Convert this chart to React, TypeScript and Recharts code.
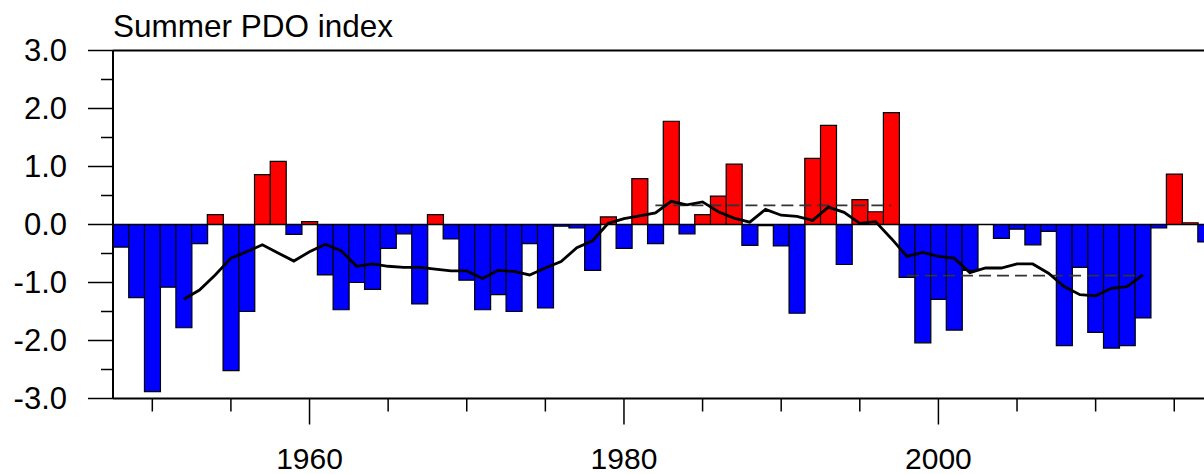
import React from 'react';
import { ComposedChart, Bar, Line, XAxis, YAxis, ReferenceLine, Cell } from 'recharts';

const years: number[] = [
  1948, 1949, 1950, 1951, 1952, 1953, 1954, 1955, 1956, 1957, 1958, 1959,
  1960, 1961, 1962, 1963, 1964, 1965, 1966, 1967, 1968, 1969,
  1970, 1971, 1972, 1973, 1974, 1975, 1976, 1977, 1978, 1979,
  1980, 1981, 1982, 1983, 1984, 1985, 1986, 1987, 1988, 1989,
  1990, 1991, 1992, 1993, 1994, 1995, 1996, 1997, 1998, 1999,
  2000, 2001, 2002, 2003, 2004, 2005, 2006, 2007, 2008, 2009,
  2010, 2011, 2012, 2013, 2014, 2015, 2016, 2017, 2018, 2019,
];

const pdoIndex: (number | null)[] = [
  -0.39, -1.26, -2.88, -1.08, -1.78, -0.33, 0.17, -2.52, -1.5, 0.86, 1.09, -0.17,
  0.05, -0.87, -1.47, -1.0, -1.12, -0.41, -0.16, -1.37, 0.17, -0.25,
  -0.96, -1.47, -1.21, -1.5, -0.33, -1.44, -0.03, -0.06, -0.79, 0.13,
  -0.41, 0.79, -0.33, 1.78, -0.16, 0.17, 0.49, 1.04, -0.36, -0.02,
  -0.37, -1.53, 1.14, 1.71, -0.69, 0.43, 0.22, 1.93, -0.91, -2.04,
  -1.29, -1.82, -0.79, 0.0, -0.24, -0.08, -0.35, -0.12, -2.09, -0.74,
  -1.86, -2.13, -2.09, -1.61, -0.06, 0.87, 0.03, -0.3, null, null,
];

// 9-year running mean, 1952-2013
const runningMeanStart = 1952;
const runningMean: number[] = [
  -1.29, -1.13, -0.87, -0.58, -0.47, -0.35, -0.49, -0.63,
  -0.47, -0.34, -0.45, -0.72, -0.68, -0.72, -0.74, -0.74, -0.77, -0.8,
  -0.8, -0.93, -0.79, -0.81, -0.87, -0.75, -0.64, -0.4, -0.28, 0.02,
  0.1, 0.15, 0.2, 0.4, 0.34, 0.39, 0.22, 0.11, 0.04, 0.26,
  0.16, 0.14, 0.07, 0.3, 0.21, 0.02, 0.05, -0.24, -0.55, -0.48,
  -0.55, -0.58, -0.83, -0.75, -0.75, -0.68, -0.68, -0.84, -1.07, -1.21,
  -1.23, -1.1, -1.07, -0.87,
];

const periodMeans = [
  { from: 1982, to: 1997, value: 0.33 },
  { from: 1998, to: 2013, value: -0.88 },
];

const yTicks: number[] = [-3, -2.5, -2, -1.5, -1, -0.5, 0, 0.5, 1, 1.5, 2, 2.5, 3];

const data = years.map((year, i) => {
  const mi = year - runningMeanStart;
  const p1 = periodMeans[0];
  const p2 = periodMeans[1];
  return {
    year,
    pdo: pdoIndex[i],
    mean: mi >= 0 && mi < runningMean.length ? runningMean[mi] : null,
    mean1: year >= p1.from && year <= p1.to ? p1.value : null,
    mean2: year >= p2.from && year <= p2.to ? p2.value : null,
  };
});

const FONT = '"Liberation Sans", Arial, Helvetica, sans-serif';

const XTick = (props: any) => {
  const { x, y, payload } = props;
  const yr = Number(payload.value);
  if (yr % 5 !== 0) return <g />;
  const major = yr % 20 === 0;
  return (
    <g>
      <line x1={x} x2={x} y1={y} y2={y + (major ? 26 : 13)} stroke="#000" strokeWidth={1.5} />
      {major && (
        <text x={x} y={y + 60} textAnchor="middle" dominantBaseline="central" fontSize={30} fontFamily={FONT} fill="#000">
          {yr}
        </text>
      )}
    </g>
  );
};

const YTick = (props: any) => {
  const { x, y, payload } = props;
  const v = Number(payload.value);
  const major = Math.abs(v - Math.round(v)) < 1e-6;
  return (
    <g>
      <line x1={x - (major ? 25 : 12)} x2={x} y1={y} y2={y} stroke="#000" strokeWidth={1.5} />
      {major && (
        <text x={x - 46} y={y} textAnchor="end" dominantBaseline="central" fontSize={31} fontFamily={FONT} fill="#000">
          {v.toFixed(1)}
        </text>
      )}
    </g>
  );
};

export default function App() {
  return (
    <div style={{ position: 'fixed', left: 0, top: 0, width: 1204, height: 474, overflow: 'hidden', background: '#fff' }}>
      <svg width={600} height={50} style={{ position: 'absolute', left: 0, top: 0 }}>
        <text x={113} y={37} fontSize={31.5} fontFamily={FONT} fill="#000">Summer PDO index</text>
      </svg>
      <div style={{ position: 'absolute', left: 0, top: 0 }}>
        <ComposedChart
          width={1245}
          height={474}
          data={data}
          margin={{ top: 50.5, right: 0, bottom: 0, left: 0 }}
          barCategoryGap={0}
          barGap={0}
        >
          <XAxis
            dataKey="year"
            type="category"
            interval={0}
            height={75.5}
            tick={<XTick />}
            tickLine={false}
            tickSize={0}
            tickMargin={0}
            axisLine={{ stroke: '#000', strokeWidth: 2 }}
          />
          <YAxis
            type="number"
            domain={[-3, 3]}
            ticks={yTicks}
            interval={0}
            width={113}
            tick={<YTick />}
            tickLine={false}
            tickSize={0}
            tickMargin={0}
            axisLine={{ stroke: '#000', strokeWidth: 2 }}
            allowDataOverflow
          />
          <ReferenceLine y={3} stroke="#000" strokeWidth={2} />
          <Bar dataKey="pdo" stroke="#000" strokeWidth={1.2} isAnimationActive={false}>
            {data.map((d, i) => (
              <Cell key={i} fill={(d.pdo ?? 0) > 0 ? '#ff0000' : '#0000ff'} />
            ))}
          </Bar>
          <ReferenceLine y={0} stroke="#000" strokeWidth={1.5} />
          <Line dataKey="mean1" stroke="#333" strokeWidth={1.8} strokeDasharray="12 6" dot={false} isAnimationActive={false} />
          <Line dataKey="mean2" stroke="#333" strokeWidth={1.8} strokeDasharray="12 6" dot={false} isAnimationActive={false} />
          <Line dataKey="mean" stroke="#000" strokeWidth={2.8} dot={false} isAnimationActive={false} />
        </ComposedChart>
      </div>
    </div>
  );
}
